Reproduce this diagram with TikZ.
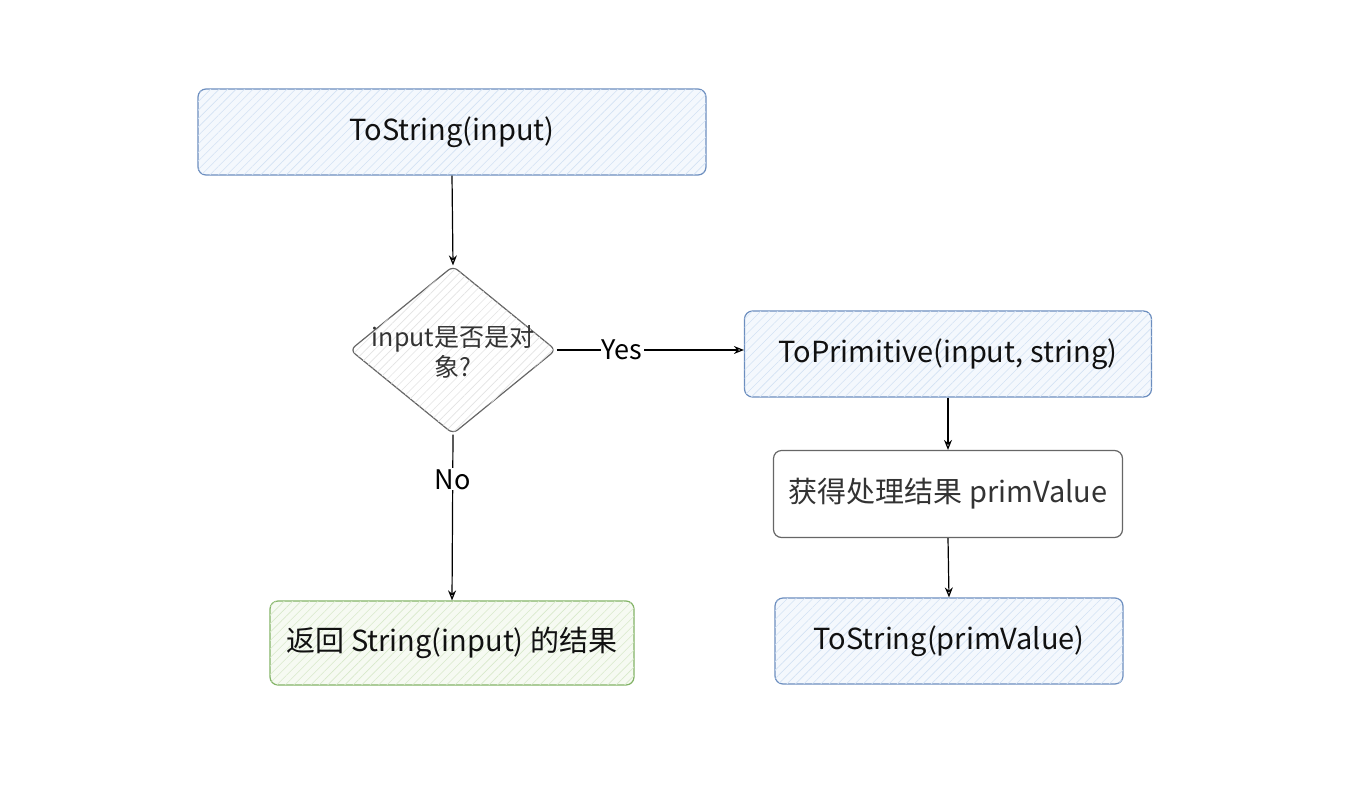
\documentclass[tikz,border=0pt]{standalone}
\usepackage{fontspec}
\setmainfont{Noto Sans CJK SC}
\usetikzlibrary{shapes.geometric,arrows.meta,patterns.meta}
\definecolor{bluebd}{HTML}{6C8EBF}
\definecolor{bluefill}{HTML}{F4F8FD}
\definecolor{bluehatch}{HTML}{D3E2F4}
\definecolor{greenbd}{HTML}{82B366}
\definecolor{greenfill}{HTML}{F6FAF2}
\definecolor{greenhatch}{HTML}{D8E9CB}
\definecolor{graybd}{HTML}{666666}
\definecolor{grayhatch}{HTML}{E3E3E3}
\definecolor{txt}{HTML}{111111}
\definecolor{graytxt}{HTML}{333333}
\tikzset{
  hatch/.style={postaction={pattern={Lines[angle=45,distance=6pt,line width=0.6pt]},pattern color=#1}},
  box/.style={draw, rounded corners=8pt, line width=1.2pt, align=center, text=txt, font=\fontsize{29}{32}\selectfont, inner sep=0pt},
  bluebox/.style={box, draw=bluebd, fill=bluefill, hatch=bluehatch},
  greenbox/.style={box, draw=greenbd, fill=greenfill, hatch=greenhatch},
  graybox/.style={box, draw=graybd, fill=white, text=graytxt},
  decision/.style={draw=graybd, diamond, rounded corners=6pt, line width=1.2pt, fill=white, hatch=grayhatch, inner sep=0pt, aspect=1.226},
  conn/.style={-{Stealth[open,length=10pt,width=8pt]}, line width=1.2pt, draw=black},
  lbl/.style={fill=white, font=\fontsize{27}{30}\selectfont, text=black, inner sep=1pt}
}
\begin{document}
\begin{tikzpicture}[x=1pt,y=-1pt]
\useasboundingbox (0,0) rectangle (1355,809);
\node[bluebox, minimum width=508pt, minimum height=86pt] (ts) at (452,132) {ToString(input)};
\node[decision, minimum width=206pt, minimum height=168pt] (dec) at (453,350) {};
\node[text=graytxt, font=\fontsize{25}{30}\selectfont, align=center] (dectext) at (453,352) {input是否是对\\象?};
\node[bluebox, minimum width=407pt, minimum height=86pt] (tp) at (948,354) {ToPrimitive(input, string)};
\node[graybox, minimum width=349pt, minimum height=87pt] (res) at (948,494) {获得处理结果 primValue};
\node[bluebox, minimum width=348pt, minimum height=86pt] (tsp) at (949,641) {ToString(primValue)};
\node[greenbox, minimum width=364pt, minimum height=84pt] (ret) at (452,643) {返回 String(input) 的结果};
\draw[conn] (ts.south) -- (dec.north);
\draw[conn] (dec.east) -- node[lbl, pos=0.35] {Yes} (tp.west |- dec.east);
\draw[conn] (dec.south) -- node[lbl, pos=0.27] {No} (ret.north);
\draw[conn] (tp.south) -- (res.north);
\draw[conn] (res.south) -- (tsp.north);
\end{tikzpicture}
\end{document}
